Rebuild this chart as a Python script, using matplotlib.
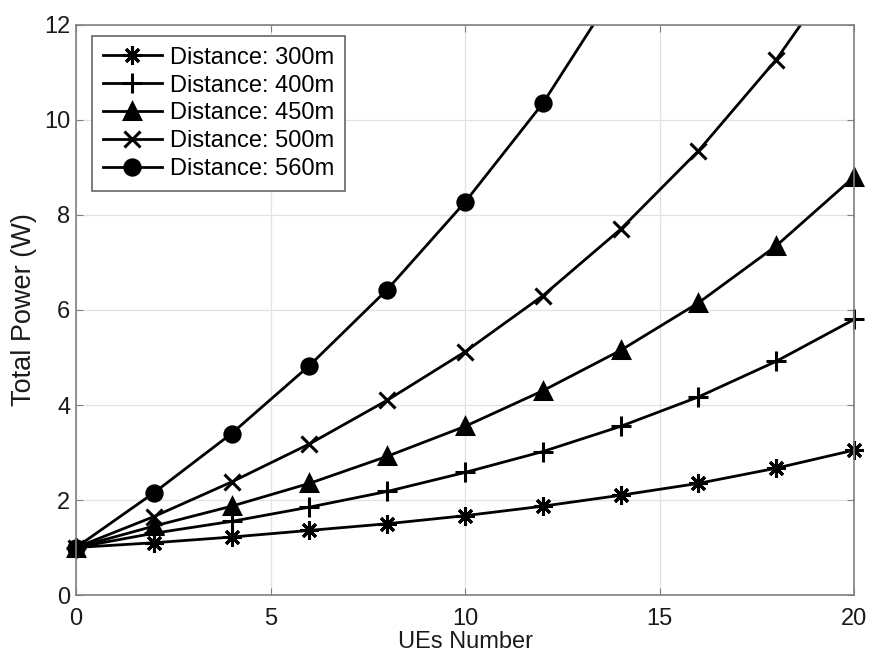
import matplotlib
matplotlib.use("Agg")
import matplotlib.pyplot as plt
from matplotlib.transforms import Bbox, TransformedBbox

plt.rcParams['font.family'] = ['Liberation Sans', 'DejaVu Sans']

ues = [0, 2, 4, 6, 8, 10, 12, 14, 16, 18, 20]
p300 = [1.0, 1.1, 1.22, 1.36, 1.5, 1.67, 1.87, 2.1, 2.35, 2.67, 3.05]
p400 = [1.0, 1.3, 1.55, 1.85, 2.18, 2.58, 3.02, 3.55, 4.17, 4.92, 5.8]
p450 = [1.0, 1.45, 1.87, 2.35, 2.92, 3.55, 4.3, 5.15, 6.15, 7.35, 8.8]
p500 = [1.0, 1.65, 2.38, 3.18, 4.1, 5.12, 6.3, 7.7, 9.35, 11.27, 13.6]
p560 = [1.0, 2.15, 3.4, 4.83, 6.43, 8.27, 10.35, 12.9, 15.9, 19.3, 23.2]

labels = ['Distance: 300m', 'Distance: 400m', 'Distance: 450m',
          'Distance: 500m', 'Distance: 560m']
series = [p300, p400, p450, p500, p560]
# matlab style asterisk = 8 spokes
markers = [(8, 2, 0), '+', '^', 'x', 'o']
msizes = [13, 14, 12, 11, 11]

fig = plt.figure(figsize=(8.7, 6.54), dpi=100)
ax = fig.add_axes([0.0874, 0.0902, 0.8942, 0.8716])

# clip lines at the top of the axes but let markers on the edges show
clipbox = TransformedBbox(Bbox([[-0.05, -0.05], [1.05, 1.0]]), ax.transAxes)
for vals, lab, m, ms in zip(series, labels, markers, msizes):
    ln, = ax.plot(ues, vals, color='black', lw=2, marker=m, markersize=ms,
                  markeredgewidth=2.2, label=lab)
    ln.set_clip_box(clipbox)

ax.set_xlim(0, 20)
ax.set_ylim(0, 12)
ax.set_xticks([0, 5, 10, 15, 20])
ax.set_yticks([0, 2, 4, 6, 8, 10, 12])
ax.grid(True, color='#e2e2e2', lw=0.9)
ax.set_axisbelow(True)
ax.tick_params(direction='in', labelsize=17, top=True, right=True, length=5,
               color='#808080', labelcolor='#1a1a1a')
ax.tick_params(axis='x', pad=9)
ax.tick_params(axis='y', pad=4)
for s in ax.spines.values():
    s.set_color('#808080')
    s.set_linewidth(1.2)
ax.set_xlabel('UEs Number', fontsize=17, labelpad=1, color='#1a1a1a')
ax.set_ylabel('Total Power (W)', fontsize=19.5, labelpad=5, color='#1a1a1a')

leg = ax.legend(loc='upper left', fontsize=17, fancybox=False, framealpha=1,
                edgecolor='#666666', handlelength=2.5, handletextpad=0.35,
                borderpad=0.45, labelspacing=0.25, borderaxespad=0,
                bbox_to_anchor=(0.0206, 0.9807))
leg.get_frame().set_linewidth(1.2)

fig.savefig('out.png', dpi=100)
